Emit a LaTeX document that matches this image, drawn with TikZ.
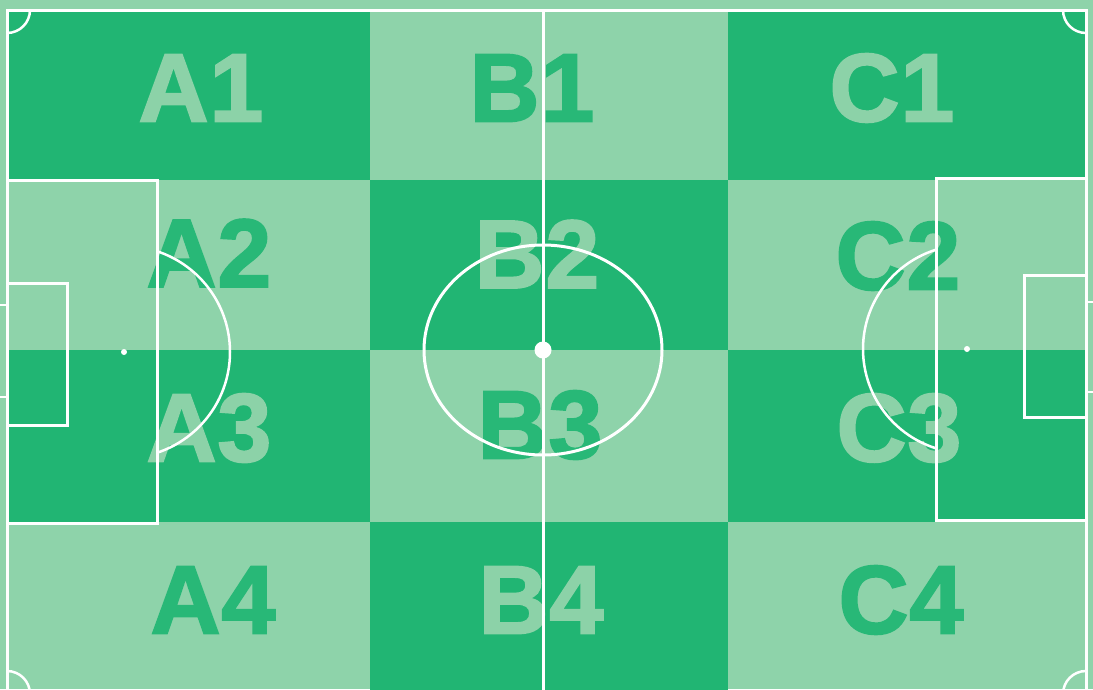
\documentclass[tikz,border=0pt]{standalone}
\usepackage{fontspec}
\setmainfont{Liberation Sans}
\newfontfamily\lblfont{Liberation Sans}[BoldFeatures={FakeBold=2,LetterSpace=1}]
\definecolor{dk}{RGB}{33,181,115}
\definecolor{lt}{RGB}{142,211,170}
\definecolor{dktext}{RGB}{40,184,119}
\definecolor{lttext}{RGB}{140,210,168}
\begin{document}
\begin{tikzpicture}[x=1pt,y=-1pt,
  fieldline/.style={draw=white,line width=3pt},
  lbl/.style={font=\lblfont\fontsize{97}{97}\selectfont\bfseries,inner sep=0pt},
  ondark/.style={lbl,text=lttext},
  onlight/.style={lbl,text=dktext}]
\useasboundingbox (0,0) rectangle (1093,689);
\fill[lt] (0,0) rectangle (1093,689);
\begin{scope}
  \clip (7,10) rectangle (1086,694);
  \fill[dk] (0,0) rectangle (370,180);
  \fill[dk] (728,0) rectangle (1093,180);
  \fill[dk] (370,180) rectangle (728,350);
  \fill[dk] (0,350) rectangle (370,522);
  \fill[dk] (728,350) rectangle (1093,522);
  \fill[dk] (370,522) rectangle (728,694);
\end{scope}
% labels
\node[ondark]  (a1) at (201,88)  {A1};
\node[onlight] (b1) at (532,88)  {B1};
\node[ondark]  (c1) at (892,88)  {C1};
\node[onlight] (a2) at (209,253) {A2};
\node[ondark]  (b2) at (537,254) {B2};
\node[onlight] (c2) at (898,256) {C2};
\node[ondark]  (a3) at (209,428) {A3};
\node[onlight] (b3) at (540,425) {B3};
\node[ondark]  (c3) at (899,428) {C3};
\node[onlight] (a4) at (213,600) {A4};
\node[ondark]  (b4) at (541,600) {B4};
\node[onlight] (c4) at (901,600) {C4};
% field lines
\draw[fieldline] (7,10) rectangle (1086,694);
\draw[fieldline] (543,10) -- (543,694);
\draw[fieldline] (543,350) ellipse [x radius=119,y radius=105];
\fill[white] (543,350) circle (8.5);
% left penalty area
\draw[fieldline] (7,180) rectangle (157,523);
\draw[fieldline] (7,283) rectangle (67,425);
\fill[white] (124,352) circle (3);
\begin{scope}
  \clip (157,0) rectangle (400,689);
  \draw[fieldline,line width=2.5pt] (124,352) circle (106);
\end{scope}
\draw[fieldline,line width=2pt] (0,305) -- (7,305);
\draw[fieldline,line width=2pt] (0,397) -- (7,397);
% right penalty area
\draw[fieldline] (936,178) rectangle (1086,520);
\draw[fieldline] (1024,275) rectangle (1086,417);
\fill[white] (967,349) circle (3);
\begin{scope}
  \clip (700,0) rectangle (936,689);
  \draw[fieldline,line width=2.5pt] (967,349) circle (104);
\end{scope}
\draw[fieldline,line width=2pt] (1086,302) -- (1093,302);
\draw[fieldline,line width=2pt] (1086,392) -- (1093,392);
% corner arcs
\begin{scope}
  \clip (7,10) rectangle (1086,694);
  \draw[fieldline,line width=2.5pt] (7,10) circle (23);
  \draw[fieldline,line width=2.5pt] (1086,10) circle (23);
  \draw[fieldline,line width=2.5pt] (7,694) circle (23);
  \draw[fieldline,line width=2.5pt] (1086,694) circle (23);
\end{scope}
\end{tikzpicture}
\end{document}
